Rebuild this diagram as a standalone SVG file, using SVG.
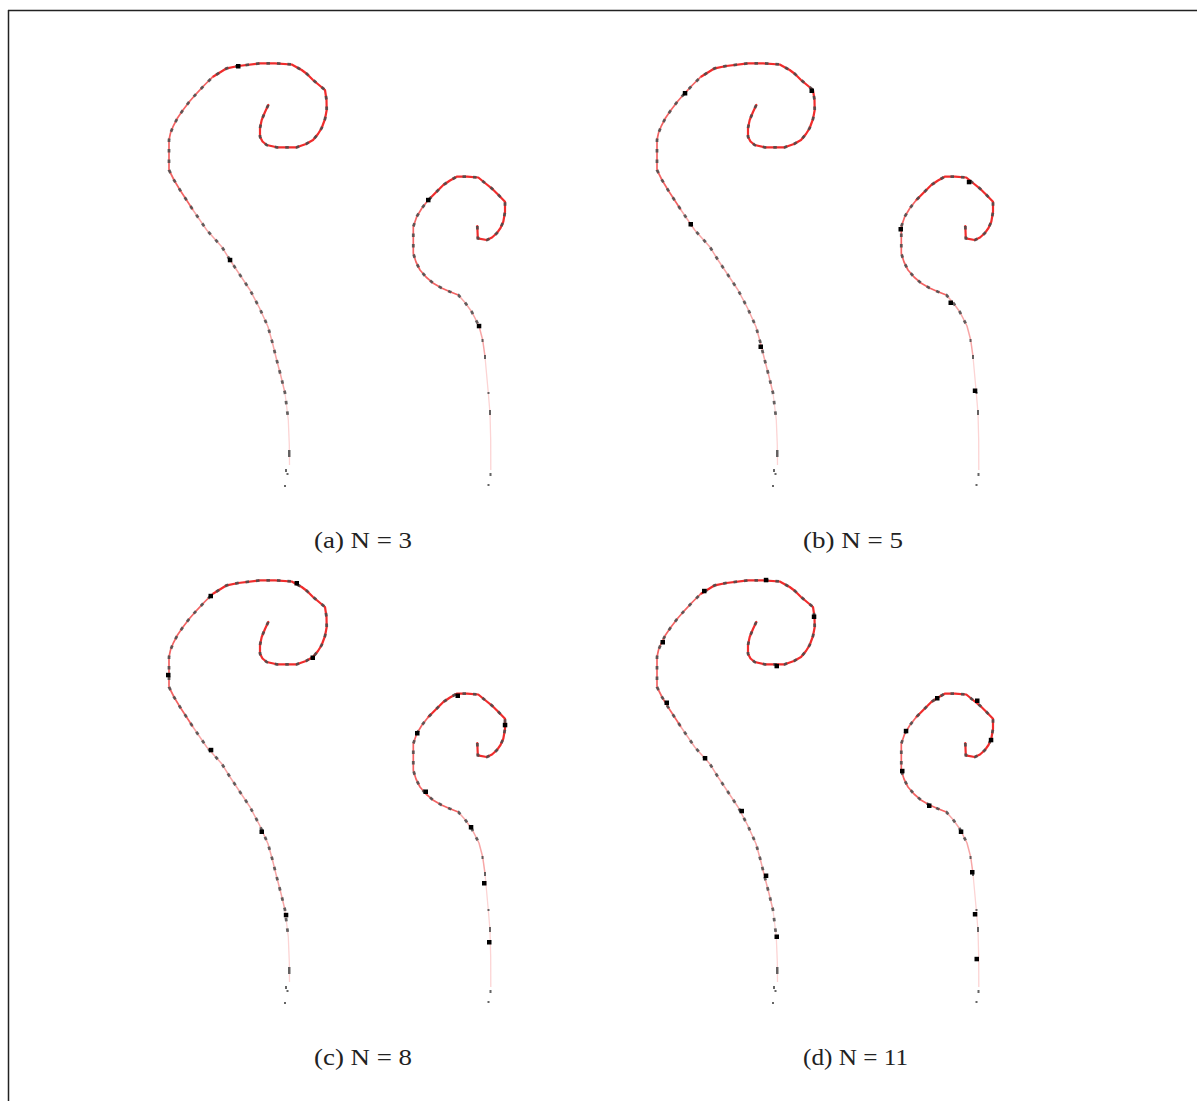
<svg xmlns="http://www.w3.org/2000/svg" xmlns:xlink="http://www.w3.org/1999/xlink" width="1197" height="1101" viewBox="0 0 1197 1101">
<style>
.s1{fill:none;stroke:#f02c2c;stroke-width:2.2;stroke-linejoin:round;stroke-linecap:round}
.s2{fill:none;stroke:#f36464;stroke-width:1.7;stroke-linejoin:round}
.s3{fill:none;stroke:#f7a6a6;stroke-width:1.5;stroke-linejoin:round}
.s4{fill:none;stroke:#fcd4d4;stroke-width:1.3;stroke-linejoin:round}
.gm{fill:none;stroke:#4a4a4a;stroke-opacity:0.85;stroke-width:2.8;stroke-dasharray:3.5 7}
.gd{fill:#4a4a4a;fill-opacity:0.85}
.bd{fill:#000}
.lab{font-family:"Liberation Serif","Times New Roman",serif;font-size:24px;fill:#222}
.frame{stroke:#222;stroke-width:1.5;fill:none}
</style>
<defs>
<g id="curves">
<path class="s1" d="M268.3,105 L265,112 261.7,120 260,128 260,136.7 262.5,141.5 266.7,145 276.7,147.3 296.7,147.3 306,144 313,140 318,134 321.7,128 325,119 326.7,110 326.5,100 325,90 319,85 313,80 307,74 301.7,70 291.7,64.5 275,63.3 260,63.3 238.3,66 226.7,68.3 213,76.7"/>
<path class="s2" d="M213,76.7 L205,84.5 196.7,93.3 189.5,101.5 183,110 177.5,118 173,126.7 170.5,133 169,140 169,155 169,170 174,180 180,190 193,210"/>
<path class="s3" d="M193,210 L206.7,230 221.7,246.7 230,260 240,275 250,290 259.5,308 268,326.7 272.5,343 276.7,360 281,376.5 285,393"/>
<path class="s4" d="M285,393 L288.3,420 289.3,445 289.5,465"/>
<path class="gm" d="M268.3,105 L265,112 261.7,120 260,128 260,136.7 262.5,141.5 266.7,145 276.7,147.3 296.7,147.3 306,144 313,140 318,134 321.7,128 325,119 326.7,110 326.5,100 325,90 319,85 313,80 307,74 301.7,70 291.7,64.5 275,63.3 260,63.3 238.3,66 226.7,68.3 213,76.7 205,84.5 196.7,93.3 189.5,101.5 183,110 177.5,118 173,126.7 170.5,133 169,140 169,155 169,170 174,180 180,190 193,210 206.7,230 221.7,246.7 230,260 240,275 250,290 259.5,308 268,326.7 272.5,343 276.7,360 281,376.5 285,393 288.3,420"/>
<rect class="gd" x="288" y="450" width="2.5" height="7"/>
<rect class="gd" x="285" y="469" width="2" height="3"/>
<rect class="gd" x="286.5" y="473" width="2" height="2"/>
<rect class="gd" x="284" y="485" width="2" height="2"/>
<path class="s1" d="M477.3,226 L477.8,238.3 486.7,240 492,237.5 496.7,233.3 500.5,228 503.3,221.7 505,212 505,201.7 498.5,195 491.7,188.3 485,183 478.3,177.5 467,176.7 456.7,176.7 450,180.5 443.3,185 428.3,200"/>
<path class="s2" d="M428.3,200 L422,208 416.7,216.7 413.3,226.7 413.3,240 413.3,253.3 416,262 420,270 426,277 433.3,283.3 441.5,288 450,291.7 458.3,295"/>
<path class="s3" d="M458.3,295 L465,302.5 471.7,311.7 479,326 482.7,340 485,356.7"/>
<path class="s4" d="M485,356.7 L488.3,393 490,413.3 490.7,440 490.8,470"/>
<path class="gm" d="M477.3,226 L477.8,238.3 486.7,240 492,237.5 496.7,233.3 500.5,228 503.3,221.7 505,212 505,201.7 498.5,195 491.7,188.3 485,183 478.3,177.5 467,176.7 456.7,176.7 450,180.5 443.3,185 428.3,200 422,208 416.7,216.7 413.3,226.7 413.3,240 413.3,253.3 416,262 420,270 426,277 433.3,283.3 441.5,288 450,291.7 458.3,295 465,302.5 471.7,311.7 479,326"/>
<rect class="gd" x="481.5" y="339" width="2" height="3"/>
<rect class="gd" x="484" y="355" width="2" height="4"/>
<rect class="gd" x="487.5" y="392" width="2" height="2"/>
<rect class="gd" x="489" y="410" width="2" height="5"/>
<rect class="gd" x="489.5" y="473" width="2" height="3"/>
<rect class="gd" x="487.5" y="484" width="2" height="2"/>
</g>
</defs>
<g id="frame">
<line class="frame" x1="8" y1="10.5" x2="1197" y2="10.5"/>
<line class="frame" x1="8.5" y1="10" x2="8.5" y2="1101"/>
</g>
<g id="panel-a">
<use xlink:href="#curves"/>
<g class="bd">
<rect x="236" y="64" width="4.5" height="4.5"/>
<rect x="227.8" y="257.8" width="4.5" height="4.5"/>
<rect x="426" y="197.8" width="4.5" height="4.5"/>
<rect x="476.8" y="323.8" width="4.5" height="4.5"/>
</g>
<text class="lab" x="314" y="548" textLength="98" lengthAdjust="spacingAndGlyphs">(a)  N = 3</text>
</g>
<g id="panel-b">
<use xlink:href="#curves" transform="translate(488,0)"/>
<g class="bd" transform="translate(488,0)">
<rect x="194.8" y="91" width="4.5" height="4.5"/>
<rect x="321.5" y="88.5" width="4.5" height="4.5"/>
<rect x="200.5" y="222" width="4.5" height="4.5"/>
<rect x="270.5" y="344.5" width="4.5" height="4.5"/>
<rect x="478.8" y="179.8" width="4.5" height="4.5"/>
<rect x="410.5" y="227" width="4.5" height="4.5"/>
<rect x="460.5" y="300.5" width="4.5" height="4.5"/>
<rect x="484.8" y="388.5" width="4.5" height="4.5"/>
</g>
<text class="lab" x="803" y="548" textLength="100" lengthAdjust="spacingAndGlyphs">(b)  N = 5</text>
</g>
<g id="panel-c">
<use xlink:href="#curves" transform="translate(0,517)"/>
<g class="bd" transform="translate(0,517)">
<rect x="208.5" y="76.8" width="4.5" height="4.5"/>
<rect x="294.5" y="64" width="4.5" height="4.5"/>
<rect x="310.5" y="138.5" width="4.5" height="4.5"/>
<rect x="166" y="155.8" width="4.5" height="4.5"/>
<rect x="208.8" y="230.8" width="4.5" height="4.5"/>
<rect x="259.5" y="312.5" width="4.5" height="4.5"/>
<rect x="283.8" y="395.8" width="4.5" height="4.5"/>
<rect x="455.5" y="176.5" width="4.5" height="4.5"/>
<rect x="502.8" y="205.8" width="4.5" height="4.5"/>
<rect x="415" y="214" width="4.5" height="4.5"/>
<rect x="423.5" y="272.5" width="4.5" height="4.5"/>
<rect x="468.8" y="308" width="4.5" height="4.5"/>
<rect x="482" y="364" width="4.5" height="4.5"/>
<rect x="487" y="423" width="4.5" height="4.5"/>
</g>
<text class="lab" x="314" y="1065" textLength="98" lengthAdjust="spacingAndGlyphs">(c)  N = 8</text>
</g>
<g id="panel-d">
<use xlink:href="#curves" transform="translate(488,517)"/>
<g class="bd" transform="translate(488,517)">
<rect x="275.8" y="60.8" width="4.5" height="4.5"/>
<rect x="214" y="71.8" width="4.5" height="4.5"/>
<rect x="323.8" y="97.5" width="4.5" height="4.5"/>
<rect x="172.5" y="123" width="4.5" height="4.5"/>
<rect x="286.5" y="146.8" width="4.5" height="4.5"/>
<rect x="176.5" y="183.5" width="4.5" height="4.5"/>
<rect x="214.8" y="239" width="4.5" height="4.5"/>
<rect x="251.5" y="291.8" width="4.5" height="4.5"/>
<rect x="275.8" y="356.5" width="4.5" height="4.5"/>
<rect x="286.5" y="417.5" width="4.5" height="4.5"/>
<rect x="447" y="179" width="4.5" height="4.5"/>
<rect x="487" y="181.5" width="4.5" height="4.5"/>
<rect x="415.8" y="211.8" width="4.5" height="4.5"/>
<rect x="500.8" y="220.8" width="4.5" height="4.5"/>
<rect x="412" y="251.8" width="4.5" height="4.5"/>
<rect x="439" y="286.5" width="4.5" height="4.5"/>
<rect x="470.8" y="312.5" width="4.5" height="4.5"/>
<rect x="482" y="353" width="4.5" height="4.5"/>
<rect x="484.8" y="395" width="4.5" height="4.5"/>
<rect x="486.5" y="439.8" width="4.5" height="4.5"/>
</g>
<text class="lab" x="803" y="1065" textLength="105" lengthAdjust="spacingAndGlyphs">(d)  N = 11</text>
</g>
</svg>
